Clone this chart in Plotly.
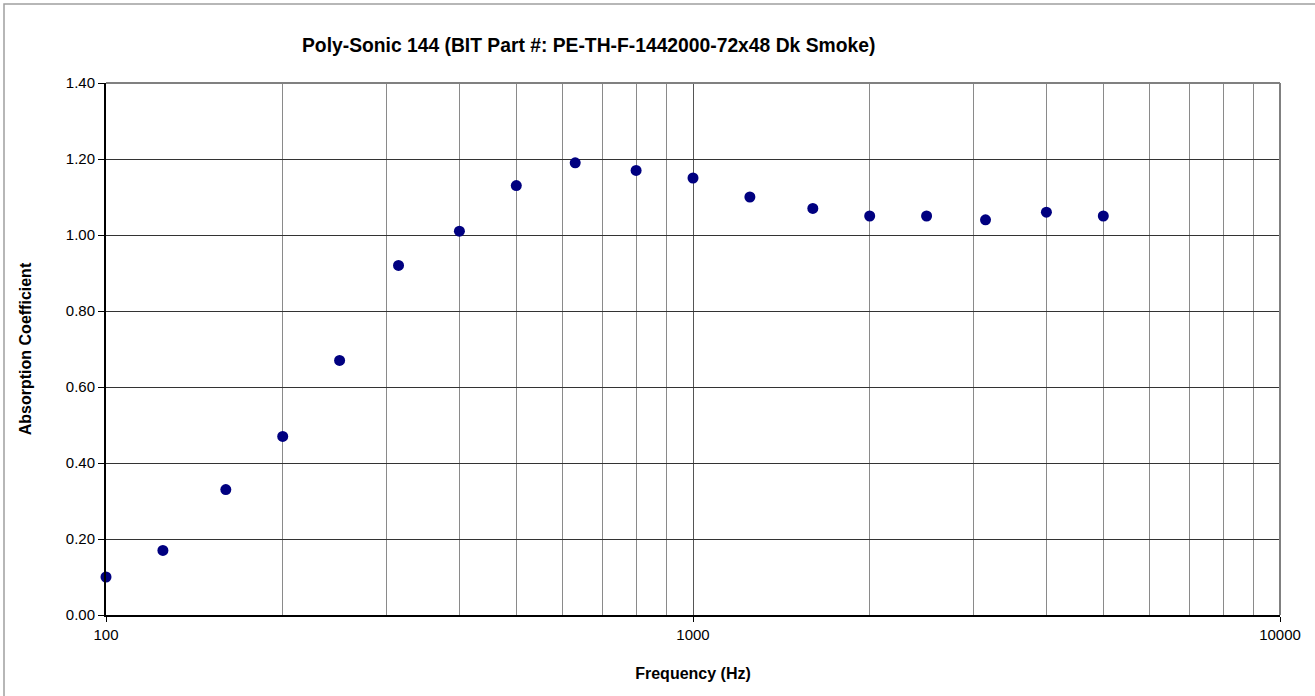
import plotly.graph_objects as go

freqs = [100, 125, 160, 200, 250, 315, 400, 500, 630, 800, 1000, 1250, 1600, 2000, 2500, 3150, 4000, 5000]
absorption = [0.10, 0.17, 0.33, 0.47, 0.67, 0.92, 1.01, 1.13, 1.19, 1.17, 1.15, 1.10, 1.07, 1.05, 1.05, 1.04, 1.06, 1.05]
x_major = [100, 1000, 10000]
x_minor = [200, 300, 400, 500, 600, 700, 800, 900, 2000, 3000, 4000, 5000, 6000, 7000, 8000, 9000]
y_ticks = [0.0, 0.2, 0.4, 0.6, 0.8, 1.0, 1.2, 1.4]
title_text = "Poly-Sonic 144 (BIT Part #: PE-TH-F-1442000-72x48 Dk Smoke)"

L, R, T, B = 106, 35, 83, 81
W, H = 1315, 696
pw, ph = W - L - R, H - T - B

fig = go.Figure()
fig.add_trace(go.Scatter(
    x=freqs, y=absorption, mode="markers",
    marker=dict(color="#000080", size=11, line=dict(width=0)),
    cliponaxis=False, showlegend=False,
))

font = dict(family="Arial, Liberation Sans, sans-serif", color="#000000")

fig.update_layout(
    width=W, height=H,
    margin=dict(l=L, r=R, t=T, b=B),
    paper_bgcolor="white", plot_bgcolor="white",
    font=dict(**font, size=15),
    xaxis=dict(
        type="log", range=[2, 4],
        tickvals=x_major, ticktext=[str(v) for v in x_major],
        tickfont=dict(size=15),
        showgrid=True, gridcolor="#555555", gridwidth=1,
        minor=dict(tickvals=x_minor, showgrid=True, gridcolor="#8a8a8a", gridwidth=1, ticks=""),
        showline=True, linecolor="#000000", linewidth=2,
        ticks="outside", ticklen=5, tickcolor="#000000",
        zeroline=False,
        title=dict(text="<b>Frequency (Hz)</b>", font=dict(size=16), standoff=26),
    ),
    yaxis=dict(
        range=[0, 1.4],
        tickvals=y_ticks, ticktext=[f"{v:.2f}" for v in y_ticks],
        tickfont=dict(size=15),
        showgrid=True, gridcolor="#333333", gridwidth=1,
        showline=True, linecolor="#000000", linewidth=2,
        ticks="outside", ticklen=6, tickcolor="#000000",
        zeroline=False,
        title=dict(text="<b>Absorption Coefficient</b>", font=dict(size=16), standoff=30),
    ),
    annotations=[dict(
        text="<b>" + title_text + "</b>",
        xref="paper", yref="paper",
        x=(588 - L) / pw, y=1 + (T - 45) / ph,
        xanchor="center", yanchor="middle",
        showarrow=False, font=dict(size=19.3),
    )],
    shapes=[
        dict(type="rect", xref="paper", yref="paper",
             x0=(4 - L) / pw, x1=(W + 10 - L) / pw,
             y0=1 - (H + 10 - T) / ph, y1=1 + (T - 4) / ph,
             line=dict(color="#a0a0a0", width=1.5), fillcolor="rgba(0,0,0,0)", layer="below"),
        dict(type="line", xref="paper", yref="paper", x0=0, x1=1, y0=1, y1=1,
             line=dict(color="#808080", width=2)),
        dict(type="line", xref="paper", yref="paper", x0=1, x1=1, y0=0, y1=1,
             line=dict(color="#808080", width=2)),
    ],
)

fig.write_html("out.html")
